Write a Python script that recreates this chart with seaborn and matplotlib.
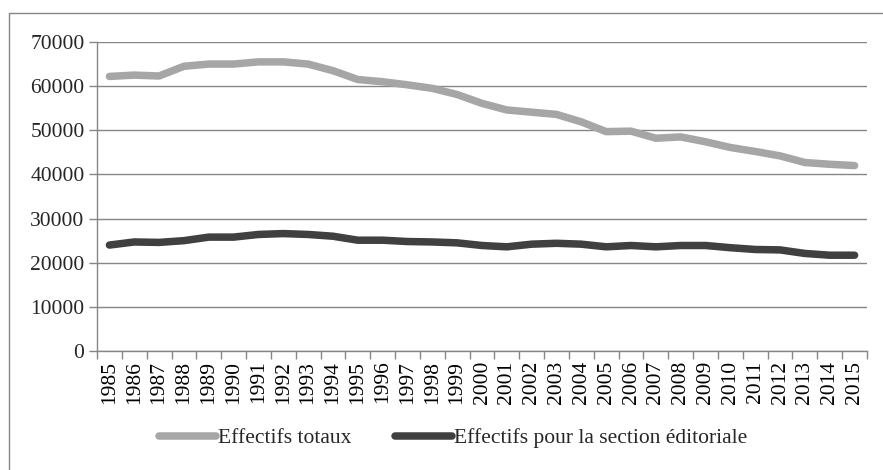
import matplotlib
matplotlib.use("Agg")
import matplotlib.pyplot as plt
import seaborn as sns
import pandas as pd
import numpy as np
from matplotlib.lines import Line2D

years = [str(y) for y in range(1985, 2016)]
total = [62200, 62500, 62300, 64500, 65000, 65000, 65500, 65500, 65000, 63500,
         61500, 61000, 60300, 59500, 58100, 56100, 54600, 54100, 53600, 51900,
         49700, 49800, 48200, 48500, 47400, 46100, 45200, 44200, 42700, 42300, 42000]
editorial = [24000, 24700, 24600, 25000, 25800, 25800, 26400, 26600, 26400, 26000,
             25100, 25100, 24800, 24700, 24500, 23900, 23600, 24200, 24400, 24200,
             23600, 23900, 23600, 23900, 23900, 23400, 23000, 22900, 22100, 21700, 21700]
series_names = ["Effectifs totaux", "Effectifs pour la section éditoriale"]
colors = ["#A6A6A6", "#404040"]
yticks = [0, 10000, 20000, 30000, 40000, 50000, 60000, 70000]

sns.set_theme(style="white")
plt.rcParams['font.family'] = ['Liberation Serif', 'DejaVu Serif']

df = pd.DataFrame({"year": years * 2,
                   "value": total + editorial,
                   "series": [series_names[0]] * len(years) + [series_names[1]] * len(years)})
df["x"] = list(range(len(years))) * 2

fig = plt.figure(figsize=(8.83, 4.70), dpi=100)
W, H = 883, 470
ax = fig.add_axes([97 / W, 1 - 351 / H, (867 - 97) / W, (351 - 42) / H])

sns.lineplot(data=df, x="x", y="value", hue="series", palette=colors,
             linewidth=5.4, ax=ax, legend=False, sort=False,
             solid_capstyle="round", solid_joinstyle="round")

FS = 15.5
ax.set_xlim(-0.5, len(years) - 0.5)
ax.set_ylim(0, 70000)
ax.set_yticks(yticks)
ax.set_yticklabels([str(v) for v in yticks], fontsize=FS)
ax.set_xticks(range(len(years)))
ax.set_xticklabels(years, rotation=90, fontsize=FS)
ax.set_xticks(np.arange(-0.5, len(years)), minor=True)
ax.tick_params(axis="x", which="major", length=0, pad=7, colors="black")
ax.tick_params(axis="x", which="minor", length=6, width=1, color="#868686", bottom=True)
ax.tick_params(axis="y", length=6, width=1, color="#868686", left=True, pad=3)
ax.set_xlabel("")
ax.set_ylabel("")
ax.grid(axis="y", color="#868686", linewidth=1)
ax.set_axisbelow(True)
for s in ["top", "right"]:
    ax.spines[s].set_visible(False)
for s in ["left", "bottom"]:
    ax.spines[s].set_color("#868686")
    ax.spines[s].set_linewidth(1)

handles = [Line2D([0], [0], color=c, linewidth=5.4, solid_capstyle="round") for c in colors]
fig.legend(handles, series_names, loc="center", bbox_to_anchor=(453 / W, 1 - 438 / H),
           ncol=2, frameon=False, fontsize=FS, handlelength=2.65, handletextpad=0.12,
           columnspacing=2.0)

# outer chart border (top and left)
fig.add_artist(Line2D([9 / W, 1.0], [1 - 13 / H, 1 - 13 / H], color="#868686", linewidth=1,
                      transform=fig.transFigure))
fig.add_artist(Line2D([9 / W, 9 / W], [0, 1 - 13 / H], color="#868686", linewidth=1,
                      transform=fig.transFigure))

fig.savefig("out.png", dpi=100)
